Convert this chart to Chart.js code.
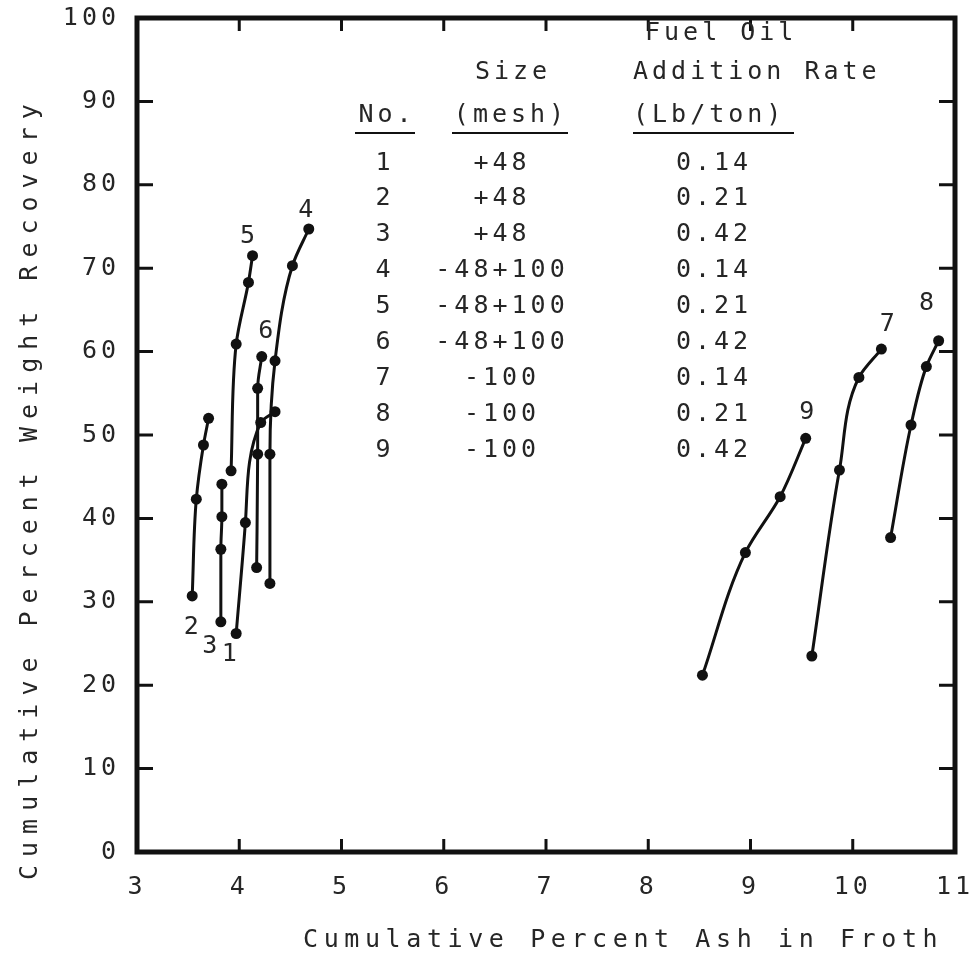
<!DOCTYPE html>
<html>
<head>
<meta charset="utf-8">
<script src="https://cdn.jsdelivr.net/npm/chart.js@4.4.1/dist/chart.umd.min.js"></script>
<style>
  html, body { margin: 0; padding: 0; background: #fff; }
  #wrap { width: 980px; height: 959px; }
</style>
</head>
<body>
<div id="wrap"><canvas id="miGrafico" width="980" height="959"></canvas></div>
<script>
// DATOS
const seriesNo = ['1', '2', '3', '4', '5', '6', '7', '8', '9'];
const sizeMesh = ['+48', '+48', '+48', '-48+100', '-48+100', '-48+100', '-100', '-100', '-100'];
const oilRate = ['0.14', '0.21', '0.42', '0.14', '0.21', '0.42', '0.14', '0.21', '0.42'];

const ash1 = [3.97, 4.06, 4.21, 4.35];
const rec1 = [26.2, 39.5, 51.5, 52.8];
const ash2 = [3.54, 3.58, 3.65, 3.70];
const rec2 = [30.7, 42.3, 48.8, 52.0];
const ash3 = [3.82, 3.82, 3.83, 3.83];
const rec3 = [27.6, 36.3, 40.2, 44.1];
const ash4 = [4.30, 4.30, 4.35, 4.52, 4.68];
const rec4 = [32.2, 47.7, 58.9, 70.3, 74.7];
const ash5 = [3.92, 3.97, 4.09, 4.13];
const rec5 = [45.7, 60.9, 68.3, 71.5];
const ash6 = [4.17, 4.18, 4.18, 4.22];
const rec6 = [34.1, 47.7, 55.6, 59.4];
const ash7 = [9.60, 9.87, 10.06, 10.28];
const rec7 = [23.5, 45.8, 56.9, 60.3];
const ash8 = [10.37, 10.57, 10.72, 10.84];
const rec8 = [37.7, 51.2, 58.2, 61.3];
const ash9 = [8.53, 8.95, 9.29, 9.54];
const rec9 = [21.2, 35.9, 42.6, 49.6];

const xTicks = [3, 4, 5, 6, 7, 8, 9, 10, 11];
const yTicks = [0, 10, 20, 30, 40, 50, 60, 70, 80, 90, 100];

const xTitle = 'Cumulative Percent Ash in Froth';
const yTitle = 'Cumulative Percent Weight Recovery';

const ashAll = [ash1, ash2, ash3, ash4, ash5, ash6, ash7, ash8, ash9];
const recAll = [rec1, rec2, rec3, rec4, rec5, rec6, rec7, rec8, rec9];

const FONT = "'DejaVu Sans Mono', monospace";
const INK = '#111';
const TXT = '#262626';

// donde va el numero de cada curva: punto de anclaje (0 = primero, -1 = ultimo) y desplazamiento en px
const labelPos = [
  [0, -7, 21], [0, -1, 32], [0, -11, 25],
  [-1, -3, -19], [-1, -5, -19], [-1, 4, -25],
  [-1, 6, -25], [-1, -12, -37], [-1, 1, -26]
];

const datasets = seriesNo.map(function (n, i) {
  return {
    label: n,
    data: ashAll[i].map(function (a, j) { return { x: a, y: recAll[i][j] }; }),
    indexAxis: 'y',
    showLine: true,
    borderColor: INK,
    backgroundColor: INK,
    borderWidth: 3,
    pointRadius: 5.5,
    pointHoverRadius: 5.5,
    pointBackgroundColor: INK,
    pointBorderWidth: 0,
    cubicInterpolationMode: 'monotone'
  };
});

// marco, marcas hacia dentro, titulos, tabla y numeros de curva
const marco = {
  id: 'marco',
  beforeDraw(chart) {
    chart.ctx.letterSpacing = '4px';
  },
  afterDatasetsDraw(chart) {
    const ctx = chart.ctx;
    const a = chart.chartArea;
    const xs = chart.scales.x, ys = chart.scales.y;
    ctx.save();
    ctx.strokeStyle = INK;
    ctx.lineWidth = 3;
    ctx.beginPath();
    xTicks.slice(1, -1).forEach(function (v) {
      const px = xs.getPixelForValue(v);
      ctx.moveTo(px, a.bottom); ctx.lineTo(px, a.bottom - 13);
      ctx.moveTo(px, a.top); ctx.lineTo(px, a.top + 13);
    });
    yTicks.slice(1, -1).forEach(function (v) {
      const py = ys.getPixelForValue(v);
      ctx.moveTo(a.left, py); ctx.lineTo(a.left + 16, py);
      ctx.moveTo(a.right, py); ctx.lineTo(a.right - 16, py);
    });
    ctx.stroke();
    ctx.lineWidth = 5;
    ctx.strokeRect(a.left, a.top, a.right - a.left, a.bottom - a.top);

    // numeros de curva
    ctx.fillStyle = TXT;
    ctx.font = '25px ' + FONT;
    ctx.letterSpacing = '0px';
    ctx.textAlign = 'center';
    ctx.textBaseline = 'middle';
    labelPos.forEach(function (lp, i) {
      const pts = chart.getDatasetMeta(i).data;
      const p = lp[0] === 0 ? pts[0] : pts[pts.length - 1];
      ctx.fillText(seriesNo[i], p.x + lp[1], p.y + lp[2]);
    });

    // titulos de ejes
    ctx.textAlign = 'left';
    ctx.letterSpacing = '5.6px';
    ctx.fillText(xTitle, 303, 940);
    ctx.save();
    ctx.translate(30, 880);
    ctx.rotate(-Math.PI / 2);
    ctx.letterSpacing = '8px';
    ctx.fillText(yTitle, 0, 0);
    ctx.restore();

    // tabla
    ctx.letterSpacing = '4px';
    ctx.textAlign = 'left';
    ctx.fillText('Fuel Oil', 645, 33);
    ctx.fillText('Addition Rate', 633, 72);
    ctx.fillText('(Lb/ton)', 633, 115);
    ctx.textAlign = 'center';
    ctx.fillText('Size', 513, 72);
    ctx.fillText('(mesh)', 511, 115);
    ctx.fillText('No.', 387, 115);
    ctx.lineWidth = 2;
    ctx.beginPath();
    ctx.moveTo(355, 133); ctx.lineTo(415, 133);
    ctx.moveTo(452, 133); ctx.lineTo(568, 133);
    ctx.moveTo(633, 133); ctx.lineTo(794, 133);
    ctx.stroke();
    seriesNo.forEach(function (n, i) {
      const y = 163 + i * 35.9;
      ctx.fillText(n, 385, y);
      ctx.fillText(sizeMesh[i], 502, y);
      ctx.fillText(oilRate[i], 714, y);
    });
    ctx.restore();
  }
};

const ctx = document.getElementById('miGrafico');

new Chart(ctx, {
  type: 'scatter',
  data: { datasets: datasets },
  plugins: [marco],
  options: {
    responsive: false,
    animation: false,
    devicePixelRatio: 1,
    layout: { padding: { top: 18, right: 25, left: 0, bottom: 0 } },
    plugins: {
      legend: { display: false },
      tooltip: { enabled: false }
    },
    scales: {
      x: {
        type: 'linear',
        min: 3,
        max: 11,
        afterBuildTicks: function (s) { s.ticks = xTicks.map(function (v) { return { value: v }; }); },
        afterFit: function (s) { s.height = 107; s.paddingLeft = 0; s.paddingRight = 0; },
        ticks: { color: TXT, font: { family: FONT, size: 25 }, padding: 20, maxRotation: 0 },
        grid: { display: false, drawTicks: false },
        border: { display: false }
      },
      y: {
        type: 'linear',
        min: 0,
        max: 100,
        afterBuildTicks: function (s) { s.ticks = yTicks.map(function (v) { return { value: v }; }); },
        afterFit: function (s) { s.width = 137; s.paddingTop = 0; s.paddingBottom = 0; },
        ticks: { color: TXT, font: { family: FONT, size: 25 }, padding: 17 },
        grid: { display: false, drawTicks: false },
        border: { display: false }
      }
    }
  }
});
</script>
</body>
</html>
